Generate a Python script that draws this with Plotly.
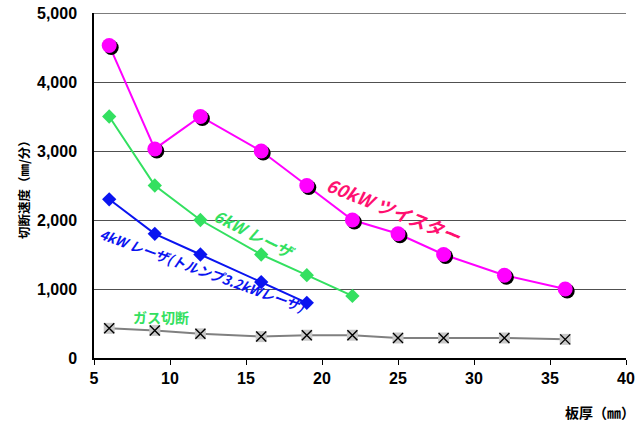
import plotly.graph_objects as go

# Plate thickness (mm) and cutting speed (mm/min) for each process
thick_twister = [6, 9, 12, 16, 19, 22, 25, 28, 32, 36]
speed_twister = [4530, 3030, 3500, 3000, 2500, 2000, 1800, 1500, 1200, 1000]

thick_6kw = [6, 9, 12, 16, 19, 22]
speed_6kw = [3500, 2500, 2000, 1500, 1200, 900]

thick_4kw = [6, 9, 12, 16, 19]
speed_4kw = [2300, 1800, 1500, 1100, 800]

thick_gas = [6, 9, 12, 16, 19, 22, 25, 28, 32, 36]
speed_gas = [430, 400, 350, 310, 330, 330, 290, 290, 290, 270]

x_ticks = [5, 10, 15, 20, 25, 30, 35, 40]
y_ticks = [0, 1000, 2000, 3000, 4000, 5000]
y_tick_text = ["0", "1,000", "2,000", "3,000", "4,000", "5,000"]

W, H = 637, 426
ML, MR, MT, MB = 94, 9, 13, 66
SHADOW = 2  # marker shadow offset in px
pw = W - ML - MR
ph = H - MT - MB
dx = SHADOW / pw
dy = SHADOW / ph

MAGENTA = "#FF00FF"
GREEN = "#33E060"
BLUE = "#0A14F0"
GREY = "#808080"

CJK = "Noto Sans CJK JP"
NUM = "Liberation Sans"

fig = go.Figure()

# connecting lines on the main axes
fig.add_trace(go.Scatter(x=thick_gas, y=speed_gas, mode="lines",
                         line=dict(color=GREY, width=2), hoverinfo="skip"))
fig.add_trace(go.Scatter(x=thick_4kw, y=speed_4kw, mode="lines",
                         line=dict(color=BLUE, width=2), hoverinfo="skip"))
fig.add_trace(go.Scatter(x=thick_6kw, y=speed_6kw, mode="lines",
                         line=dict(color=GREEN, width=2), hoverinfo="skip"))
fig.add_trace(go.Scatter(x=thick_twister, y=speed_twister, mode="lines",
                         line=dict(color=MAGENTA, width=2), hoverinfo="skip"))

# black drop shadow of the twister markers, on a subplot nudged right/down
fig.add_trace(go.Scatter(x=thick_twister, y=speed_twister, mode="markers",
                         marker=dict(symbol="circle", size=15, color="black"),
                         xaxis="x2", yaxis="y2", hoverinfo="skip"))

# markers on top
fig.add_trace(go.Scatter(x=thick_gas, y=speed_gas, mode="markers",
                         marker=dict(symbol="square", size=11, color="#C8C8C8"),
                         xaxis="x3", yaxis="y3"))
fig.add_trace(go.Scatter(x=thick_gas, y=speed_gas, mode="markers",
                         marker=dict(symbol="x-thin-open", size=10, color="black",
                                     line=dict(color="black", width=1.4)),
                         xaxis="x3", yaxis="y3"))
fig.add_trace(go.Scatter(x=thick_4kw, y=speed_4kw, mode="markers",
                         marker=dict(symbol="diamond", size=11, color=BLUE),
                         xaxis="x3", yaxis="y3"))
fig.add_trace(go.Scatter(x=thick_6kw, y=speed_6kw, mode="markers",
                         marker=dict(symbol="diamond", size=11, color=GREEN),
                         xaxis="x3", yaxis="y3"))
fig.add_trace(go.Scatter(x=thick_twister, y=speed_twister, mode="markers",
                         marker=dict(symbol="circle", size=15, color=MAGENTA),
                         xaxis="x3", yaxis="y3"))

x_range = [5, 40]
y_range = [0, 5000]
main_x_dom = [0, 1 - dx]
main_y_dom = [dy, 1]

hidden = dict(visible=False, showgrid=False, zeroline=False, automargin=False)

fig.update_layout(
    width=W, height=H,
    margin=dict(l=ML, r=MR, t=MT, b=MB, autoexpand=False),
    paper_bgcolor="white", plot_bgcolor="rgba(0,0,0,0)",
    showlegend=False,
    xaxis=dict(range=x_range, domain=main_x_dom, tickvals=x_ticks,
               showgrid=False, zeroline=False, automargin=False,
               showline=True, linecolor="black", linewidth=1.5,
               ticks="outside", ticklen=5, tickcolor="black", tickwidth=1,
               tickfont=dict(family=NUM, size=16, color="black", weight="bold"),
               anchor="y"),
    yaxis=dict(range=y_range, domain=main_y_dom, tickvals=y_ticks,
               ticktext=y_tick_text, automargin=False,
               showgrid=True, gridcolor="#505050", gridwidth=1.2,
               zeroline=False,
               showline=True, linecolor="black", linewidth=1.5,
               ticks="", ticklabelstandoff=12,
               tickfont=dict(family=NUM, size=16, color="black", weight="bold"),
               anchor="x"),
    xaxis2=dict(range=x_range, domain=[dx, 1], anchor="y2", **hidden),
    yaxis2=dict(range=y_range, domain=[0, 1 - dy], anchor="x2", **hidden),
    xaxis3=dict(range=x_range, domain=main_x_dom, anchor="y3", **hidden),
    yaxis3=dict(range=y_range, domain=main_y_dom, anchor="x3", **hidden),
)

# top border of the plot area at 5,000
fig.add_hline(y=5000, line=dict(color="#505050", width=1.5), layer="below")

# series labels
fig.add_annotation(x=24.8, y=2150, xref="x", yref="y", showarrow=False,
                   text="<i>60kW ツイスター</i>", textangle=22,
                   font=dict(family=CJK, size=18, color="#FF1070", weight="bold"))
fig.add_annotation(x=15.6, y=1800, xref="x", yref="y", showarrow=False,
                   text="<i>6kW レーザ</i>", textangle=27,
                   font=dict(family=CJK, size=16, color=GREEN, weight="bold"))
fig.add_annotation(x=12.15, y=1270, xref="x", yref="y", showarrow=False,
                   text="<i>4kW レーザ(トルンプ3.2kWレーザ)</i>", textangle=20,
                   font=dict(family=CJK, size=13.5, color=BLUE, weight="bold"))
fig.add_annotation(x=9.4, y=590, xref="x", yref="y", showarrow=False,
                   text="ガス切断",
                   font=dict(family=CJK, size=14, color=GREEN, weight="bold"))

# axis titles
fig.add_annotation(x=0, y=0.5, xref="paper", yref="paper", showarrow=False,
                   xshift=-82, text="切断速度（㎜/分）", textangle=-90,
                   font=dict(family=CJK, size=12.5, color="black", weight="bold"))
fig.add_annotation(x=1, y=0, xref="paper", yref="paper", showarrow=False,
                   xanchor="right", yanchor="middle", yshift=-52, xshift=9,
                   text="板厚（㎜）",
                   font=dict(family=CJK, size=14, color="black", weight="bold"))

fig.write_html("out.html")
